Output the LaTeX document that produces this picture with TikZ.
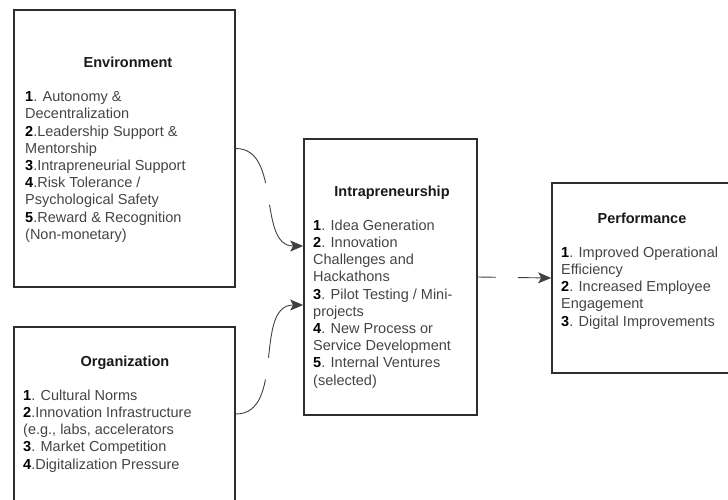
\documentclass[tikz,border=0pt]{standalone}
\usepackage{fontspec}
\setmainfont{Liberation Sans}
\usepackage{tikz}
\usetikzlibrary{arrows.meta,positioning}
\definecolor{txtgray}{HTML}{444444}
\definecolor{linegray}{HTML}{2E2E2E}
\newcommand{\itemno}[1]{\textbf{\color{black}#1}}

\begin{document}
\begin{tikzpicture}[x=1pt,y=-1pt,
  box/.style={draw=linegray,line width=1.7pt,inner sep=0pt},
  title/.style={anchor=base,font=\fontsize{14.5}{17.2}\selectfont\bfseries,text=black!90},
  items/.style={anchor=north west,inner sep=0pt,align=left,font=\fontsize{14.5}{17.2}\selectfont,text=txtgray},
  link/.style={draw=black!75,line width=0.9pt,-{Stealth[length=13pt,width=11pt,inset=3pt]}}]
\clip (0,0) rectangle (728,499);
% boxes
\node[box,minimum width=221pt,minimum height=277pt] (env) at (124.5,148.5) {};
\node[box,minimum width=221pt,minimum height=174pt] (org) at (124.5,414) {};
\node[box,minimum width=173pt,minimum height=276pt] (intra) at (390.5,277) {};
\node[box,minimum width=183pt,minimum height=190pt] (perf) at (643.5,278) {};
% titles
\node[title] (envT) at (128,67) {Environment};
\node[title] (orgT) at (125,366) {Organization};
\node[title] (intraT) at (392,196) {Intrapreneurship};
\node[title] (perfT) at (642,223) {Performance};
% item lists
\node[items] (envL) at (25,91.5) {\itemno{1}. Autonomy \&\\ Decentralization\\ \itemno{2}.Leadership Support \&\\ Mentorship\\
  \itemno{3}.Intrapreneurial Support\\ \itemno{4}.Risk Tolerance /\\ Psychological Safety\\ \itemno{5}.Reward \& Recognition\\ (Non-monetary)};
\node[items] (orgL) at (23,389.5) {\itemno{1}. Cultural Norms\\ \itemno{2}.Innovation Infrastructure\\ (e.g., labs, accelerators\\
  \itemno{3}. Market Competition\\ \itemno{4}.Digitalization Pressure};
\node[items] (intraL) at (313,219.5) {\itemno{1}. Idea Generation\\ \itemno{2}. Innovation\\ Challenges and\\ Hackathons\\
  \itemno{3}. Pilot Testing / Mini-\\ projects\\ \itemno{4}. New Process or\\ Service Development\\ \itemno{5}. Internal Ventures\\ (selected)};
\node[items] (perfL) at (561,246.5) {\itemno{1}. Improved Operational\\ Efficiency\\ \itemno{2}. Increased Employee\\ Engagement\\
  \itemno{3}. Digital Improvements};
% connectors
\draw[link,dash pattern=on 50pt off 22pt on 200pt] (env.east) to[out=0,in=180] ([yshift=31pt]intra.west);
\draw[link,dash pattern=on 50pt off 22pt on 200pt] (org.east) to[out=0,in=180] ([yshift=-28pt]intra.west);
\draw[link,dash pattern=on 18pt off 22pt on 200pt] (intra.east) -- (perf.west);
\end{tikzpicture}
\end{document}
